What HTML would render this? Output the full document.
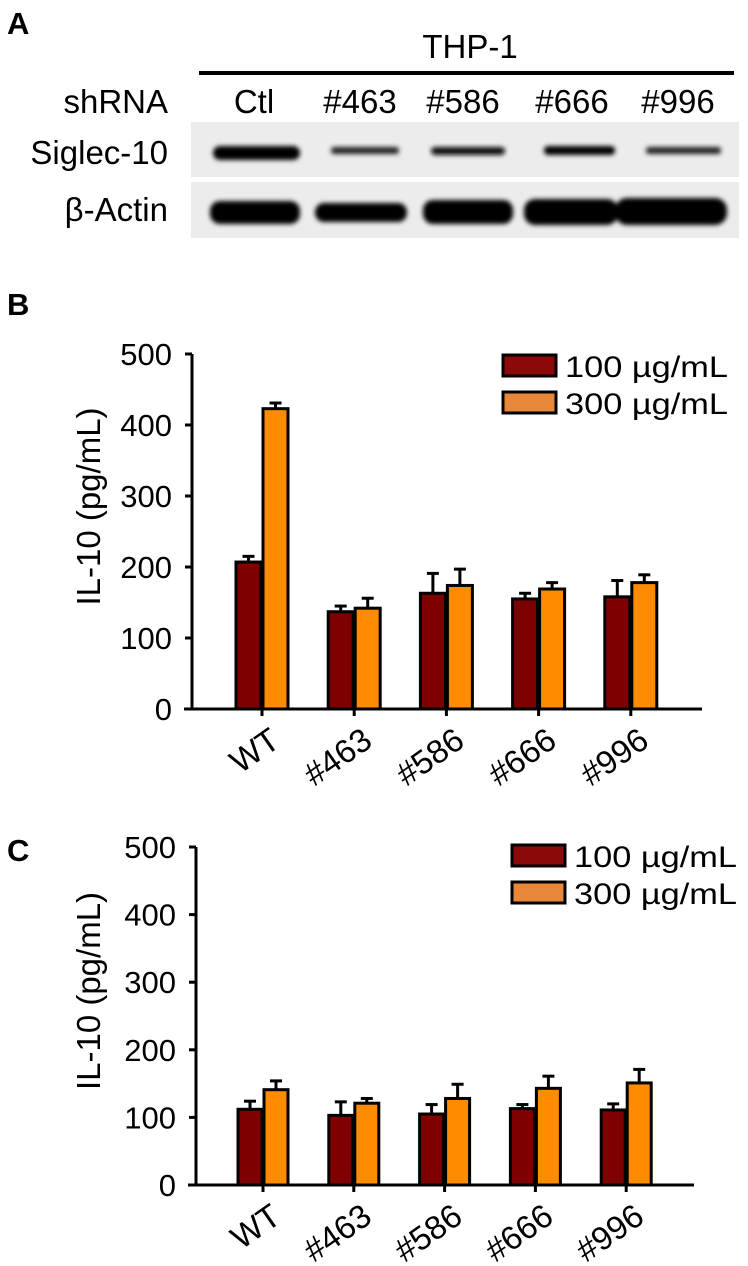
<!DOCTYPE html>
<html><head><meta charset="utf-8"><style>
html,body{margin:0;padding:0;background:#fff;width:748px;height:1266px;overflow:hidden}
svg{display:block;font-family:"Liberation Sans",sans-serif}
</style></head><body>
<svg id="fig" width="748" height="1266" viewBox="0 0 748 1266">
<defs><filter id="bl" x="-20%" y="-100%" width="140%" height="300%"><feGaussianBlur stdDeviation="2.5"/></filter></defs>
<g>
<text x="7" y="34" font-size="31" font-weight="bold">A</text>
<text x="470" y="58" font-size="33" text-anchor="middle">THP-1</text>
<rect x="199" y="71" width="535" height="4" fill="#000"/>
<text x="168" y="113" font-size="33" text-anchor="end">shRNA</text>
<text x="254" y="113" font-size="33" text-anchor="middle">Ctl</text>
<text x="360" y="113" font-size="33" text-anchor="middle">#463</text>
<text x="463" y="113" font-size="33" text-anchor="middle">#586</text>
<text x="572" y="113" font-size="33" text-anchor="middle">#666</text>
<text x="678" y="113" font-size="33" text-anchor="middle">#996</text>
<text x="168" y="164" font-size="33" text-anchor="end">Siglec-10</text>
<text x="168" y="221" font-size="33" text-anchor="end">β-Actin</text>
<rect x="191" y="122" width="548" height="55" fill="#ececec"/>
<rect x="191" y="182" width="548" height="56" fill="#ececec"/>
<g filter="url(#bl)" fill="#000">
<rect x="213" y="146" width="87" height="14" rx="7"/>
<rect x="331" y="147" width="68" height="7" rx="3" fill="#222"/>
<rect x="431" y="147" width="74" height="8" rx="4" fill="#111"/>
<rect x="544" y="146" width="71" height="9" rx="4"/>
<rect x="646" y="147" width="75" height="7" rx="3" fill="#222"/>
<rect x="210" y="201" width="90" height="23" rx="10"/>
<rect x="315" y="203" width="92" height="19" rx="9"/>
<rect x="423" y="200" width="90" height="24" rx="10"/>
<rect x="524" y="199" width="94" height="26" rx="11"/>
<rect x="615" y="198" width="112" height="27" rx="12"/>
</g>
</g>
<text x="7" y="315" font-size="31" font-weight="bold">B</text>
<text x="7" y="861" font-size="31" font-weight="bold">C</text>
<g id="chartB"></g>
<g id="chartC"></g>
</svg>
<script>
const categories = ["WT","#463","#586","#666","#996"];
const yTicks = [0,100,200,300,400,500];
const seriesNames = ["100 µg/mL","300 µg/mL"];
const bLow = [207,137,163,155,158];
const bLowErr = [8,8,28,8,23];
const bHigh = [423,142,174,169,178];
const bHighErr = [8,14,23,9,11];
const cLow = [112,103,105,113,111];
const cLowErr = [12,20,14,6,9];
const cHigh = [141,121,128,143,151];
const cHighErr = [13,7,21,18,20];

const NS="http://www.w3.org/2000/svg";
function mk(parent,tag,attrs){const e=document.createElementNS(NS,tag);for(const k in attrs)e.setAttribute(k,attrs[k]);parent.appendChild(e);return e;}
const colors=["#7f0000","#ff8c00"];
const legendColors=["#8a0a0a","#e8873a"];

function drawChart(g,cfg,low,lowErr,high,highErr,prefix){
  const y=v=>cfg.y0-(v/500)*(cfg.y0-cfg.y500);
  const x=i=>cfg.ticks0+i*cfg.step;
  let e=mk(g,'line',{x1:cfg.ax,y1:cfg.y500,x2:cfg.ax,y2:cfg.y0+1,stroke:'#000','stroke-width':3});
  
  
  e=mk(g,'line',{x1:cfg.ax-8,y1:cfg.y0,x2:cfg.axEnd,y2:cfg.y0,stroke:'#000','stroke-width':3});
  
  
  yTicks.forEach(t=>{
    const l=mk(g,'line',{x1:cfg.ax-7,y1:y(t),x2:cfg.ax,y2:y(t),stroke:'#000','stroke-width':3});
    
    
    const tx=mk(g,'text',{x:cfg.ax-20,y:y(t)+11,'font-size':31,'text-anchor':'end'});
    tx.textContent=t;
    
    
  });
  const yt=mk(g,'text',{x:0,y:0,'font-size':33,'text-anchor':'middle',transform:`translate(${cfg.ylx},${(cfg.y0+cfg.y500)/2-25}) rotate(-90)`});
  yt.textContent='IL-10 (pg/mL)';
  
  
  categories.forEach((c,i)=>{
    const cx=x(i);
    const tk=mk(g,'line',{x1:cx,y1:cfg.y0,x2:cx,y2:cfg.y0+7,stroke:'#000','stroke-width':3});
    
    
    [[low,lowErr],[high,highErr]].forEach((s,k)=>{
      const v=s[0][i],er=s[1][i];
      const bx=k===0?cx-cfg.bw-1:cx+1;
      const ex=bx+cfg.bw/2;
      const el=mk(g,'line',{x1:ex,y1:y(v),x2:ex,y2:y(v+er),stroke:'#000','stroke-width':3});
      
      
      const ec=mk(g,'line',{x1:ex-6,y1:y(v+er),x2:ex+6,y2:y(v+er),stroke:'#000','stroke-width':3});
      
      
      const r=mk(g,'rect',{x:bx,y:y(v),width:cfg.bw,height:cfg.y0-y(v),fill:colors[k],stroke:'#000','stroke-width':3});
      
      
    });
    const lb=mk(g,'text',{x:0,y:0,'font-size':33,'text-anchor':'end',transform:`translate(${cx+20},${cfg.y0+36}) rotate(-35)`});
    lb.textContent=c;
    
    
  });
  seriesNames.forEach((n,k)=>{
    const ly=cfg.legY+k*37;
    const r=mk(g,'rect',{x:cfg.legX,y:ly,width:53,height:21,fill:legendColors[k],stroke:'#000','stroke-width':3});
    
    
    const t=mk(g,'text',{x:cfg.legX+62,y:ly+22,'font-size':30,textLength:163,lengthAdjust:'spacingAndGlyphs'});
    t.textContent=n;
    
    
  });
}
drawChart(document.getElementById('chartB'),{ax:192,axEnd:702,y0:709,y500:354,ticks0:262,step:92.2,bw:25,ylx:100,legX:503,legY:355},bLow,bLowErr,bHigh,bHighErr,'chart-b');
drawChart(document.getElementById('chartC'),{ax:196,axEnd:694,y0:1185,y500:847,ticks0:263,step:90.8,bw:24,ylx:100,legX:512,legY:845},cLow,cLowErr,cHigh,cHighErr,'chart-c');
</script>
</body></html>
